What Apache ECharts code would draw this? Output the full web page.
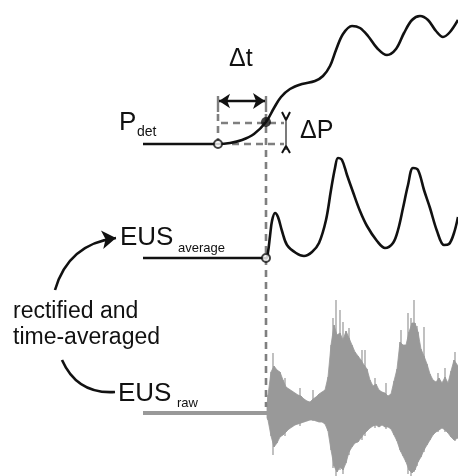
<!DOCTYPE html>
<html>
<head>
<meta charset="utf-8">
<script src="https://cdn.jsdelivr.net/npm/echarts@6/dist/echarts.min.js"></script>
<style>
    html, body { margin: 0; padding: 0; background: #fff; }
    #chart { width: 458px; height: 476px; }
</style>
</head>
<body>
<div id="chart"></div>
<script>
// 检测压力 P_det 曲线 (x = 时间, y = 画面纵坐标)
const pDet = [
    [143, 144], [218, 144], [230, 143], [242, 140], [254, 134], [266, 122], [274, 108],
    [281, 97], [290, 89], [302, 84], [315, 81], [323, 76], [330, 66], [336, 50],
    [343, 34], [352, 26], [360, 28], [368, 36], [377, 48], [387, 55], [396, 49],
    [404, 33], [412, 20], [420, 16], [428, 20], [436, 31], [443, 37], [450, 32], [458, 20]
];

// 整流并时间平均后的 EUS
const eusAverage = [
    [143, 258], [266, 258], [268, 252], [270, 236], [272, 221], [275, 213], [278, 217],
    [282, 231], [287, 245], [296, 253], [304, 256], [312, 252], [319, 243], [326, 220],
    [331, 190], [335, 168], [338, 158], [342, 160], [347, 175], [353, 192], [360, 211],
    [367, 226], [377, 241], [385, 248], [393, 243], [398, 230], [403, 208], [408, 185],
    [413, 168], [418, 170], [424, 190], [430, 208], [437, 231], [444, 245], [449, 244],
    [454, 233], [458, 217]
];

// 原始 EUS 信号: 静息段 + 包络 [x, 上沿, 下沿]
const rawRest = [[143, 413], [268, 413]];
const rawEnvelope = [
    [267, 405, 418], [268, 395, 420], [271, 372, 436], [274, 366, 447], [277, 370, 443], [280, 372, 437],
    [283, 380, 435], [286, 387, 432], [289, 389, 429], [292, 391, 427], [295, 393, 425],
    [298, 395, 424], [301, 396, 423], [304, 399, 422], [307, 401, 421], [310, 402, 420],
    [313, 399, 420], [316, 397, 421], [319, 394, 422], [322, 392, 422], [325, 390, 424],
    [328, 377, 431], [331, 345, 450], [334, 325, 466], [337, 335, 472], [340, 333, 467],
    [343, 340, 470], [346, 331, 463], [349, 338, 452], [352, 345, 447], [355, 352, 443],
    [358, 356, 442], [361, 360, 438], [364, 365, 434], [367, 369, 431], [370, 380, 428],
    [373, 386, 426], [376, 384, 425], [379, 390, 427], [382, 392, 425], [385, 393, 427],
    [388, 396, 427], [391, 394, 429], [394, 381, 435], [397, 369, 441], [400, 342, 450],
    [403, 345, 456], [406, 345, 462], [409, 332, 470], [412, 323, 473], [415, 323, 470],
    [418, 332, 462], [421, 349, 457], [424, 356, 450], [427, 364, 445], [430, 374, 440],
    [433, 380, 435], [436, 382, 432], [439, 378, 430], [442, 383, 428], [445, 377, 430],
    [448, 383, 433], [451, 371, 437], [454, 360, 440], [458, 366, 438]
];
const rawSpikes = [
    [273, 353, 455], [285, 378, 436], [300, 388, 426], [313, 390, 421], [333, 318, 468],
    [336, 300, 476], [340, 310, 470], [343, 322, 474], [349, 328, 455], [362, 350, 440],
    [365, 350, 436], [375, 378, 428], [386, 383, 429], [401, 330, 452], [408, 313, 474],
    [411, 318, 476], [414, 300, 472], [417, 326, 466], [424, 327, 452], [438, 373, 432],
    [445, 368, 432], [455, 352, 441]
];

// 标注: 虚线, Δt, ΔP, 标记点
const dashSegments = [
    [[266, 114], [266, 407]],
    [[218, 114], [218, 140]],
    [[221, 123], [284, 123]],
    [[232, 144], [284, 144]]
];
const bracketTicks = [
    [[218, 96], [218, 112]],
    [[266, 96], [266, 112]]
];
const deltaT = [[219, 101], [265, 101]];
const deltaPBar = [[286, 117], [286, 150]];
const deltaPHeads = [
    [[282, 112], [286, 120], [290, 112]],
    [[282, 153], [286, 146], [290, 153]]
];
const openMarks = [[218, 144], [266, 258]];
const filledMarks = [[266, 122]];
const upperArc = [[55, 290], [116, 238]];
const lowerArc = [[62, 360], [115, 392]];

const FONT = '"Liberation Sans", Arial, sans-serif';
const RAW_GREY = '#999';
const DASH_GREY = '#7f7f7f';

function label(text, x, y, size) {
    return {
        type: 'text', x: x, y: y, silent: true,
        style: {
            text: text, fill: '#111', font: size + 'px ' + FONT,
            align: 'left', verticalAlign: 'middle',
            textAlign: 'left', textVerticalAlign: 'middle'
        }
    };
}

function plainLine(data, color, width, type) {
    return {
        type: 'line', data: data, symbol: 'none', silent: true,
        lineStyle: { color: color, width: width, type: type || 'solid', cap: 'butt', opacity: 1 },
        z: 3
    };
}

// 包络: 相邻两点之间画一个四边形
function renderEnvelope(params, api) {
    const i = params.dataIndex;
    if (i >= rawEnvelope.length - 1) return null;
    const a = rawEnvelope[i];
    const b = rawEnvelope[i + 1];
    const pts = [
        api.coord([a[0], a[1]]), api.coord([b[0], b[1]]),
        api.coord([b[0], b[2]]), api.coord([a[0], a[2]])
    ];
    return {
        type: 'polygon',
        shape: { points: pts },
        style: { fill: RAW_GREY, stroke: RAW_GREY, lineWidth: 0.8 }
    };
}

function renderSpike(params, api) {
    const top = api.coord([api.value(0), api.value(1)]);
    const bot = api.coord([api.value(0), api.value(2)]);
    return {
        type: 'rect',
        shape: { x: top[0] - 0.7, y: top[1], width: 1.4, height: bot[1] - top[1] },
        style: { fill: '#a6a6a6' }
    };
}

const chart = echarts.init(document.getElementById('chart'), null, { renderer: 'canvas' });

const series = [
    plainLine(rawRest, RAW_GREY, 4),
    { type: 'custom', data: rawSpikes, renderItem: renderSpike, silent: true, z: 1 },
    { type: 'custom', data: rawEnvelope, renderItem: renderEnvelope, silent: true, z: 2 },
    {
        type: 'line', data: pDet, smooth: 0.35, symbol: 'none', silent: true,
        lineStyle: { color: '#111', width: 2.6 }, z: 5
    },
    {
        type: 'line', data: eusAverage, smooth: 0.35, symbol: 'none', silent: true,
        lineStyle: { color: '#111', width: 2.6 }, z: 5
    }
];

dashSegments.forEach(function (seg) {
    const s = plainLine(seg, DASH_GREY, 2.6, [7, 5]);
    s.z = 4;
    series.push(s);
});
bracketTicks.forEach(function (seg) {
    series.push(plainLine(seg, DASH_GREY, 2.4));
});
series.push(plainLine(deltaPBar, '#333', 1.3));
deltaPHeads.forEach(function (seg) {
    series.push(plainLine(seg, '#111', 2));
});

series.push({
    type: 'lines', coordinateSystem: 'cartesian2d', silent: true, z: 6,
    symbol: ['arrow', 'arrow'], symbolSize: [11, 12],
    lineStyle: { color: '#111', width: 2.4, curveness: 0, opacity: 1 },
    data: [{ coords: deltaT }]
});
series.push({
    type: 'lines', coordinateSystem: 'cartesian2d', silent: true, z: 6,
    symbol: ['none', 'arrow'], symbolSize: 14,
    lineStyle: { color: '#111', width: 2.6, curveness: 0.33, opacity: 1 },
    data: [{ coords: upperArc }]
});
series.push({
    type: 'lines', coordinateSystem: 'cartesian2d', silent: true, z: 6,
    symbol: ['none', 'none'],
    lineStyle: { color: '#111', width: 2.6, curveness: -0.35, opacity: 1 },
    data: [{ coords: lowerArc }]
});
series.push({
    type: 'scatter', data: openMarks, symbol: 'circle', symbolSize: 8, silent: true, z: 8,
    itemStyle: { color: '#fff', borderColor: '#111', borderWidth: 2 }
});
series.push({
    type: 'scatter', data: filledMarks, symbol: 'circle', symbolSize: 10, silent: true, z: 8,
    itemStyle: { color: '#111' }
});

const option = {
    animation: false,
    backgroundColor: '#fff',
    grid: { left: 0, right: 0, top: 0, bottom: 0 },
    xAxis: { type: 'value', min: 0, max: 458, show: false },
    yAxis: { type: 'value', min: 0, max: 476, inverse: true, show: false },
    graphic: [
        label('Δt', 229, 59, 25),
        label('P', 119, 123, 26),
        label('det', 137, 132, 14),
        label('ΔP', 300, 131, 25),
        label('EUS', 120, 238, 26),
        label('average', 178, 248, 13),
        label('rectified and', 13, 312, 23),
        label('time-averaged', 13, 338, 23),
        label('EUS', 118, 394, 26),
        label('raw', 177, 403, 13)
    ],
    series: series
};

chart.setOption(option);
</script>
</body>
</html>
